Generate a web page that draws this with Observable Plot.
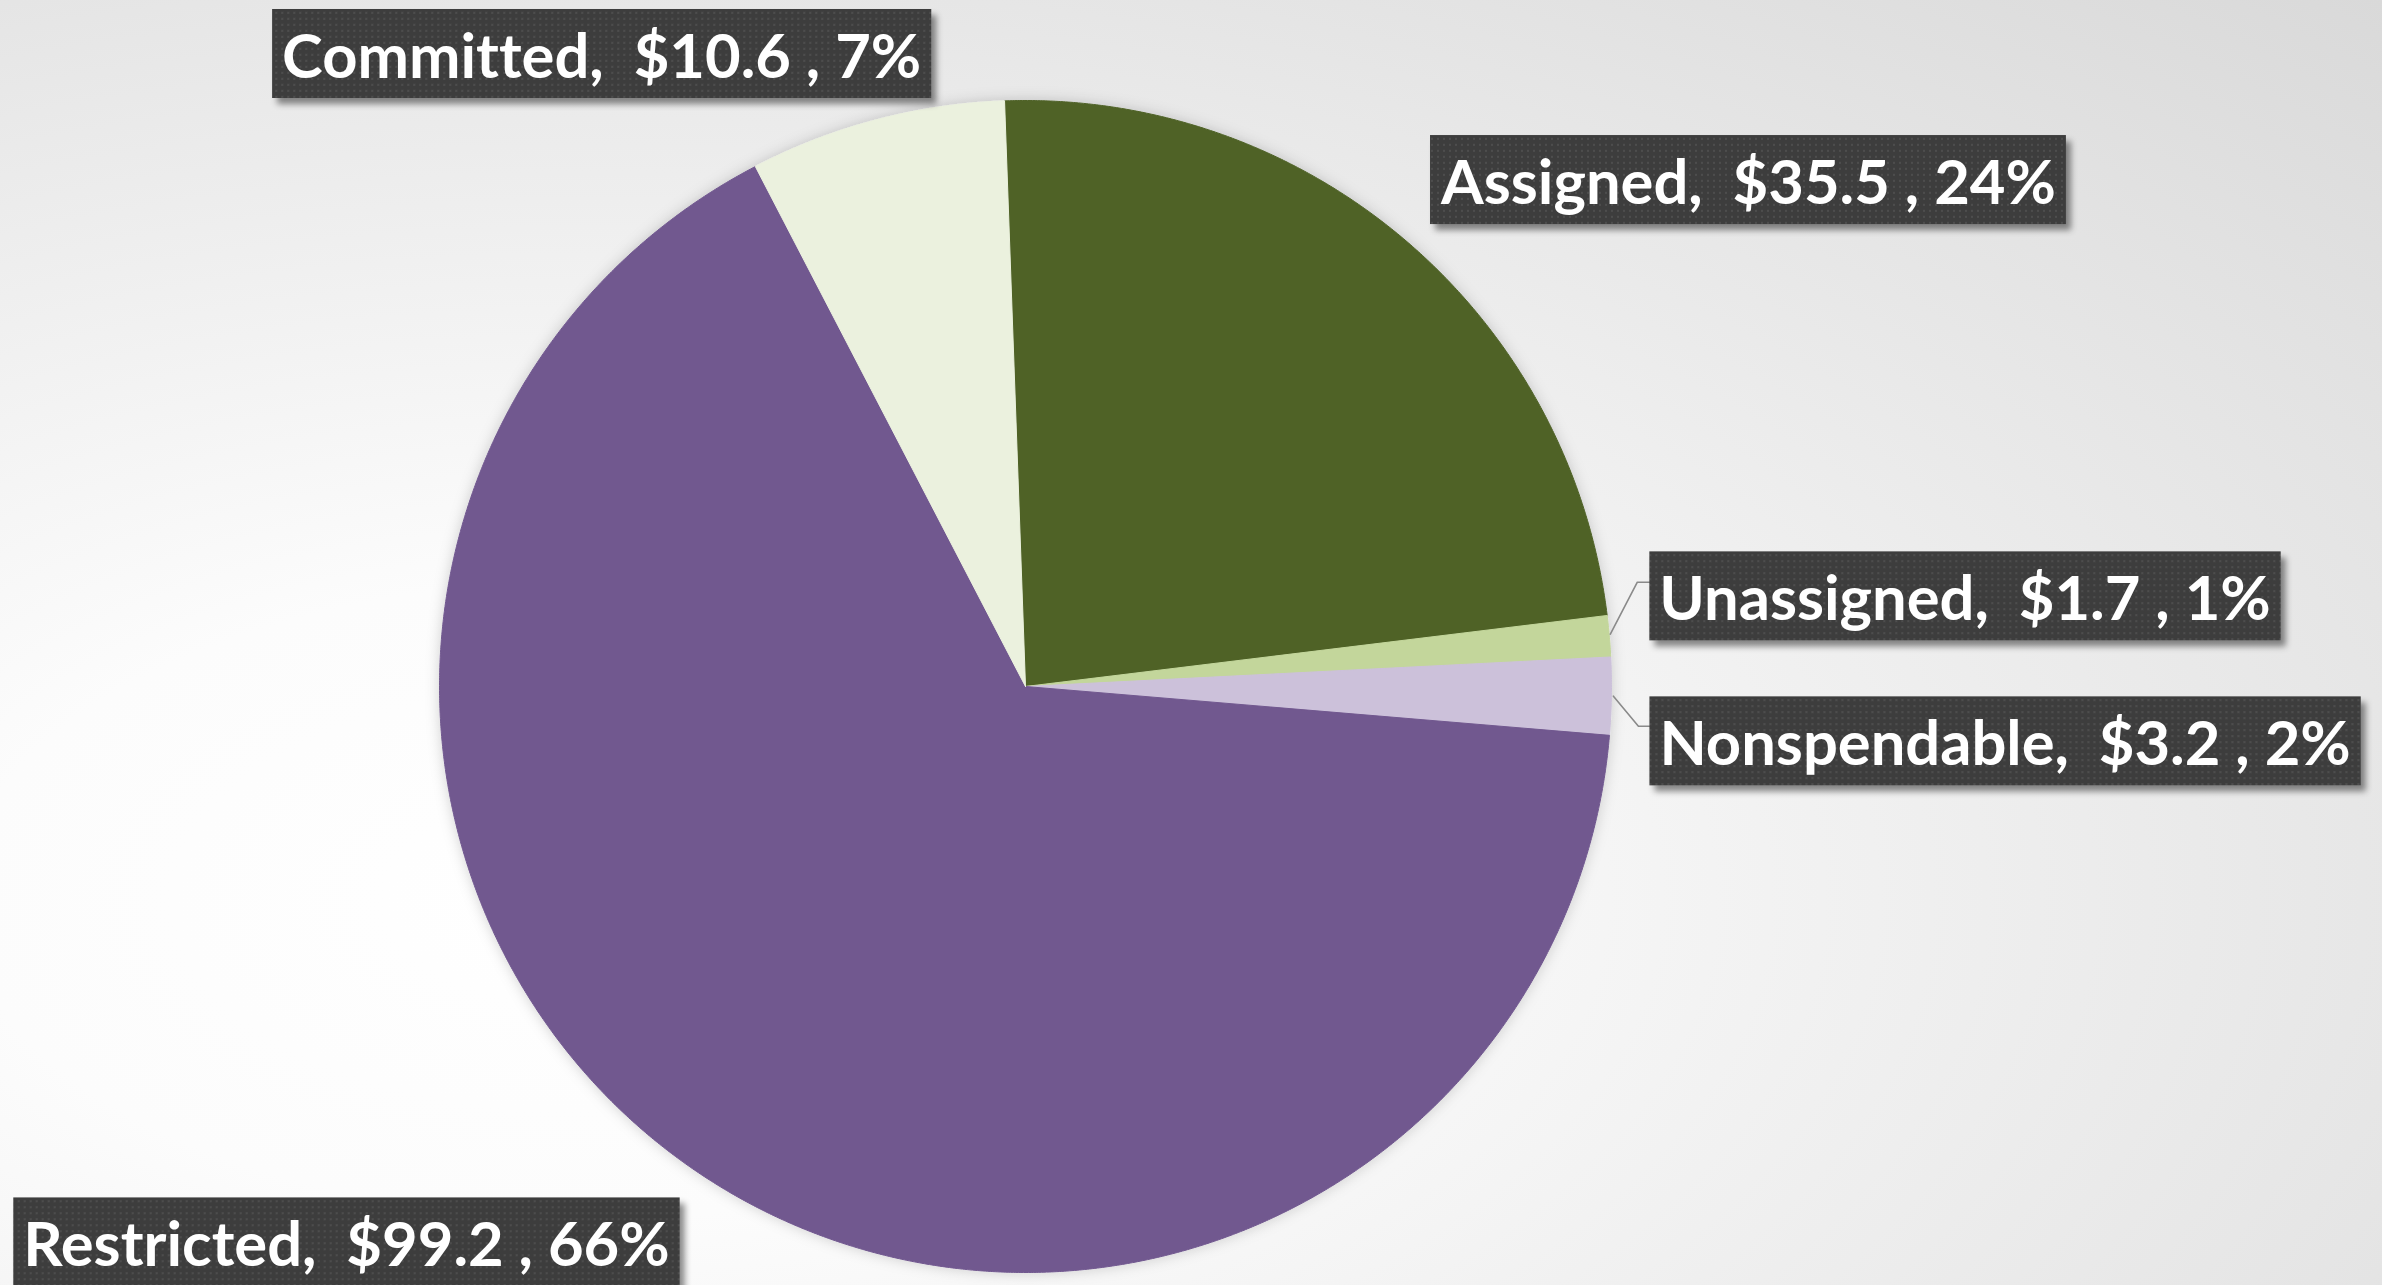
<!DOCTYPE html>
<html><head><meta charset="utf-8">
<script src="https://cdn.jsdelivr.net/npm/d3@7"></script>
<script src="https://cdn.jsdelivr.net/npm/@observablehq/plot@0.6"></script>
<style>
html,body{margin:0;padding:0;overflow:hidden;background:#fff}
#chart svg{display:block}
#chart g.labels text{white-space:pre;font-variant-ligatures:none;font-feature-settings:"liga" 0}
</style></head><body><div id="chart"></div>
<script>
// ---- data ----
const categories = ["Assigned", "Unassigned", "Nonspendable", "Restricted", "Committed"];
const values = [35.5, 1.7, 3.2, 99.2, 10.6];
const colors = ["#4f6228", "#c3d69b", "#ccc1da", "#71588f", "#ebf1de"];
const startAngleDeg = -2.05; // first slice rotation (clockwise from 12 o'clock)

// ---- layout ----
const W = 2382, H = 1285, R = 586, CX = 1025, CY = 686;
const labelLayout = [
  {anchor: "start", dx: 35, dy: -57},
  {anchor: "start", dx: 50, dy: -36},
  {anchor: "start", dx: 48, dy: 49},
  {anchor: "end", dx: -31, dy: 72},
  {anchor: "end", dx: 45, dy: -62}
];
// leader lines: pixel offsets from the slice's outer midpoint
const leaders = {
  1: [[1, -2], [28, -54], [40, -54]],
  2: [[2, 0], [27, 30], [38, 30]]
};

const total = d3.sum(values);
const fmtV = d3.format(".1f");
const fmtP = d3.format(".0f");
const rad = d => d * Math.PI / 180;

// compute slice angles
let cum = 0;
const slices = categories.map((name, i) => {
  const a0 = startAngleDeg + cum / total * 360;
  cum += values[i];
  const a1 = startAngleDeg + cum / total * 360;
  const mid = (a0 + a1) / 2;
  return {name, value: values[i], a0, a1, mid,
    mx: Math.sin(rad(mid)), my: Math.cos(rad(mid)),
    label: `${name},  $${fmtV(values[i])} , ${fmtP(values[i] / total * 100)}%`};
});

// slice outlines (center -> arc -> center)
const pieRows = [];
for (const s of slices) {
  pieRows.push({name: s.name, x: 0, y: 0});
  const n = Math.max(2, Math.ceil((s.a1 - s.a0) / 0.25));
  for (let k = 0; k <= n; k++) {
    const a = rad(s.a0 + (s.a1 - s.a0) * k / n);
    pieRows.push({name: s.name, x: Math.sin(a), y: Math.cos(a)});
  }
  pieRows.push({name: s.name, x: 0, y: 0});
}

const leaderRows = [];
for (const [i, pts] of Object.entries(leaders)) {
  const s = slices[+i];
  for (const [ox, oy] of pts) leaderRows.push({id: s.name, x: s.mx + ox / R, y: s.my - oy / R});
}

const textMarks = slices.map((s, i) => Plot.text([s], {
  x: "mx", y: "my", text: "label",
  dx: labelLayout[i].dx, dy: labelLayout[i].dy,
  textAnchor: labelLayout[i].anchor,
  fill: "white", fontSize: 61.5, fontWeight: 700, fontFamily: "Lato"
}));

const chart = Plot.plot({
  width: W, height: H,
  margin: 0,
  x: {domain: [-CX / R, (W - CX) / R], range: [0, W], axis: null},
  y: {domain: [-(H - CY) / R, CY / R], range: [H, 0], axis: null},
  color: {type: "ordinal", domain: categories, range: colors},
  style: {background: "radial-gradient(ellipse farthest-corner at 25% 70%, #ffffff 0%, #fcfcfc 25%, #d9d9d9 100%)", fontFamily: "Lato"},
  marks: [
    Plot.line(pieRows, {x: "x", y: "y", z: "name", fill: "name", stroke: "name", strokeWidth: 1, curve: "linear"}),
    Plot.line(leaderRows, {x: "x", y: "y", z: "id", stroke: "#8a8a8a", strokeWidth: 1.6}),
    ...textMarks
  ]
});

document.getElementById("chart").appendChild(chart);

// defs: dotted pattern + shadows
const ns = "http://www.w3.org/2000/svg";
const defs = document.createElementNS(ns, "defs");
defs.innerHTML = `
<pattern id="dots" width="6" height="6" patternUnits="userSpaceOnUse">
  <rect width="6" height="6" fill="#3e3e3e"/>
  <rect x="2" y="2" width="2" height="2" fill="#4e4e4e"/>
</pattern>
<filter id="boxShadow" x="-10%" y="-30%" width="125%" height="170%">
  <feDropShadow dx="5" dy="6" stdDeviation="3" flood-color="#000" flood-opacity="0.45"/>
</filter>
<filter id="pieShadow" x="-10%" y="-10%" width="120%" height="120%">
  <feDropShadow dx="0" dy="0" stdDeviation="7" flood-color="#000" flood-opacity="0.18"/>
</filter>`;
chart.insertBefore(defs, chart.firstChild);

// pie shadow
const pieG = chart.querySelector('g[aria-label="line"]');
if (pieG) pieG.setAttribute("filter", "url(#pieShadow)");

// label boxes
chart.querySelectorAll('g[aria-label="text"]').forEach(g => {
  g.classList.add("labels");
  g.querySelectorAll("text").forEach(t => {
    const bb = t.getBBox();
    const cy = bb.y + bb.height / 2;
    const r = document.createElementNS(ns, "rect");
    r.setAttribute("x", bb.x - 10);
    r.setAttribute("y", cy - 44.5);
    r.setAttribute("width", bb.width + 20);
    r.setAttribute("height", 89);
    r.setAttribute("fill", "url(#dots)");
    r.setAttribute("filter", "url(#boxShadow)");
    if (t.getAttribute("transform")) r.setAttribute("transform", t.getAttribute("transform"));
    t.parentNode.insertBefore(r, t);
  });
});
</script>
</body></html>
